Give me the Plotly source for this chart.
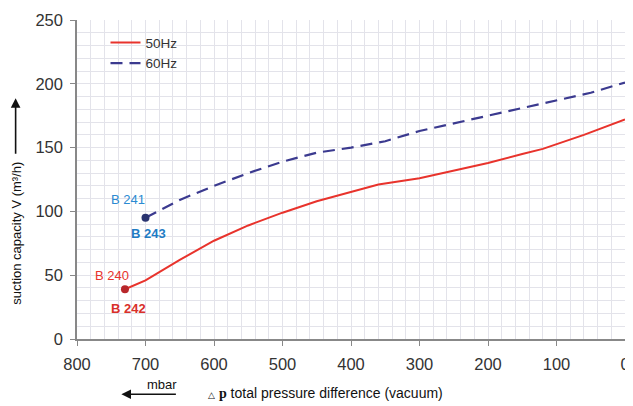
import plotly.graph_objects as go

# pressure difference (mbar) and suction capacity (m3/h)
p_50 = [730, 700, 650, 600, 550, 500, 450, 400, 360, 300, 250, 200, 150, 120, 60, 0]
v_50 = [39, 46, 62, 77, 89, 99, 108, 115, 121, 126, 132, 138, 145, 149, 160, 172]

p_60 = [700, 650, 600, 550, 500, 450, 400, 350, 300, 250, 200, 150, 100, 50, 0]
v_60 = [95, 109, 120, 130, 139, 146, 150, 155, 163, 169, 175, 181, 187, 193, 201]

x_ticks = [800, 700, 600, 500, 400, 300, 200, 100, 0]
y_ticks = [0, 50, 100, 150, 200, 250]

red = "#e8332c"
navy = "#3b3a8f"
font = "Liberation Sans, Arial, sans-serif"

fig = go.Figure()
fig.add_trace(go.Scatter(x=p_50, y=v_50, mode="lines", name="50Hz",
                         line=dict(color=red, width=2)))
fig.add_trace(go.Scatter(x=p_60, y=v_60, mode="lines", name="60Hz",
                         line=dict(color=navy, width=2.2, dash="12px,7px")))
# starting points of both curves
fig.add_trace(go.Scatter(x=[p_50[0]], y=[v_50[0]], mode="markers", showlegend=False,
                         marker=dict(color="#b8272b", size=8)))
fig.add_trace(go.Scatter(x=[p_60[0]], y=[v_60[0]], mode="markers", showlegend=False,
                         marker=dict(color="#2a3470", size=8)))

blue_txt = "#2b8ad2"
labels = [
    ("B 241", 726, 109, blue_txt, False),
    ("B 243", 696, 83, "#1f7cc4", True),
    ("B 240", 749, 50, red, False),
    ("B 242", 725, 24, "#d9302a", True),
]
for txt, x, y, c, bold in labels:
    fig.add_annotation(x=x, y=y, text="<b>%s</b>" % txt if bold else txt, showarrow=False,
                       font=dict(size=13, color=c, family=font))

# y axis title with arrow
fig.add_annotation(xref="paper", yref="paper", x=-0.112, y=0.332, xanchor="center", yanchor="middle",
                   text="suction capacity V (m³/h)", textangle=-90, showarrow=False,
                   font=dict(size=13, color="#111", family=font))
fig.add_annotation(xref="paper", yref="paper", x=-0.112, y=0.755, ax=0, ay=57, text="",
                   showarrow=True, arrowhead=2, arrowsize=1.2, arrowwidth=1.6, arrowcolor="#111")
# x axis title with arrow
fig.add_annotation(xref="paper", yref="paper", x=0.156, y=-0.142, xanchor="center", yanchor="middle",
                   text="mbar", showarrow=False, font=dict(size=13, color="#111", family=font))
fig.add_annotation(xref="paper", yref="paper", x=0.081, y=-0.173, ax=56, ay=0, text="",
                   showarrow=True, arrowhead=2, arrowsize=1.2, arrowwidth=1.6, arrowcolor="#111")
fig.add_annotation(xref="paper", yref="paper", x=0.235, y=-0.168, xanchor="left", yanchor="middle",
                   text="<span style='font-size:9px'>△</span> <span style='font-family:Liberation Serif'><b>p</b></span> total pressure difference (vacuum)",
                   showarrow=False, font=dict(size=14, color="#111", family=font))

# the page body has an 8px margin, so the figure is shrunk by that much
fig.update_layout(
    width=625, height=398,
    margin=dict(l=69, r=3, t=8, b=67),
    paper_bgcolor="white", plot_bgcolor="white",
    font=dict(family=font, size=16.5, color="#333"),
    showlegend=True,
    legend=dict(x=0.052, y=0.977, xanchor="left", yanchor="top", bgcolor="rgba(0,0,0,0)",
                font=dict(size=13.5, color="#333")),
    xaxis=dict(range=[800, 0], tickvals=x_ticks, showline=True, linecolor="#888", linewidth=1.5,
               ticks="outside", ticklen=5, tickcolor="#888", gridcolor="#e3e3ea", zeroline=False,
               ticklabelstandoff=4, ticklabeloverflow="allow",
               minor=dict(dtick=20, showgrid=True, gridcolor="#e3e3ea")),
    yaxis=dict(range=[0, 250], tickvals=y_ticks, showline=True, linecolor="#888", linewidth=1.5,
               ticks="outside", ticklen=5, tickcolor="#888", gridcolor="#e3e3ea", zeroline=False,
               ticklabelstandoff=4, ticklabeloverflow="allow",
               minor=dict(dtick=10, showgrid=True, gridcolor="#e3e3ea")),
)

fig.write_html("out.html")
